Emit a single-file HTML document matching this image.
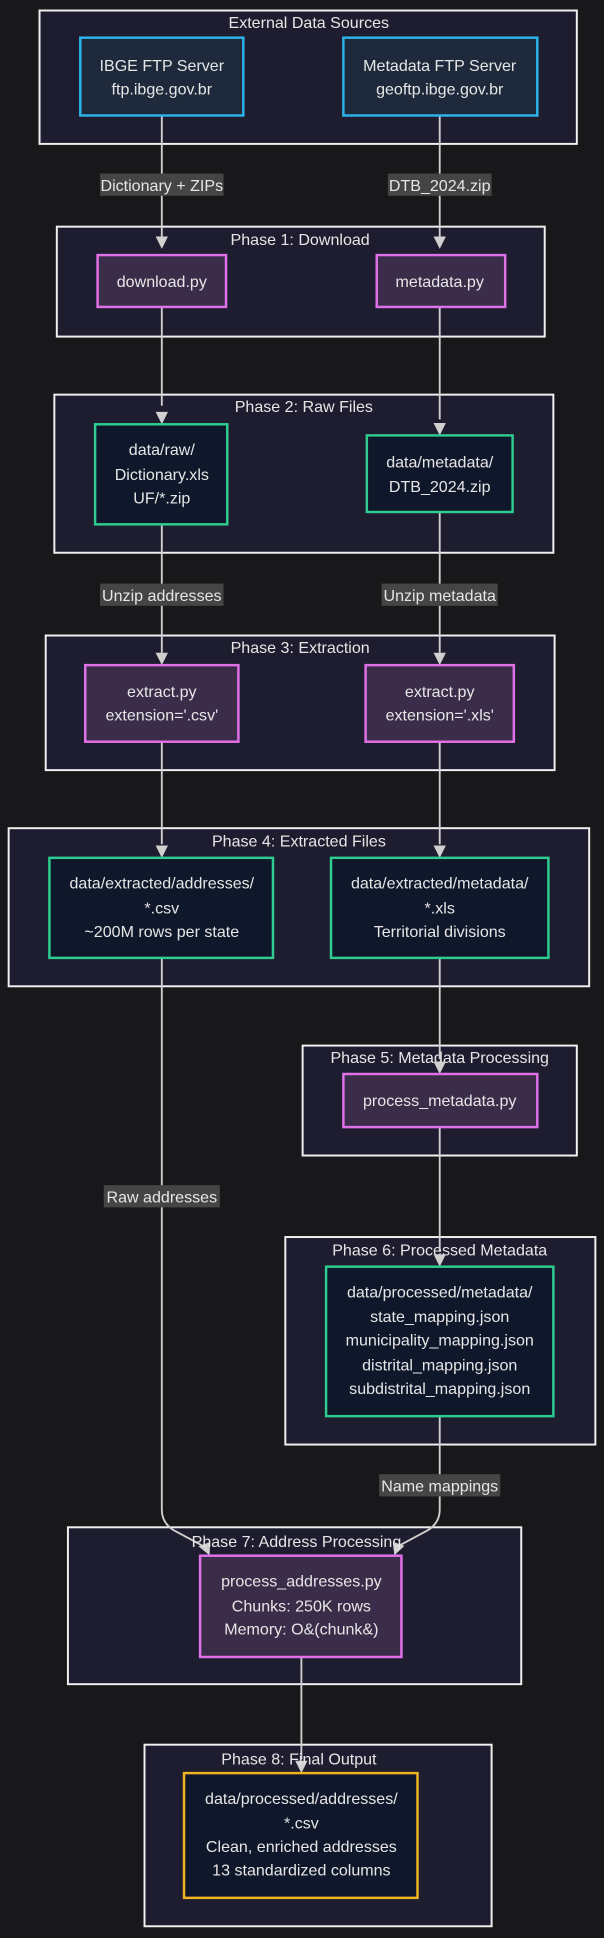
<!DOCTYPE html>
<html><head><meta charset="utf-8"><style>
html,body{margin:0;padding:0;background:#18181b;}
svg{display:block}
text{font-family:"Liberation Sans",Arial,sans-serif;fill:#e6e6e6;font-size:13px;text-anchor:middle;}
.cl{fill:#1e1d2f;stroke:#f0f0f0;stroke-width:1.6}
.b{fill:#1e2a3b;stroke:#2bb4ea;stroke-width:2}
.p{fill:#3b2d4a;stroke:#e070e8;stroke-width:2}
.g{fill:#0f172a;stroke:#2ecc8f;stroke-width:2}
.y{fill:#0f172a;stroke:#f2b320;stroke-width:2}
.e{stroke:#d0d0d0;stroke-width:1.5;fill:none}
.lb{fill:#454545}
.ar{fill:#d0d0d0}
</style></head><body>
<svg width="604" height="1938" viewBox="0 0 489 1568" xmlns="http://www.w3.org/2000/svg">
<rect width="489" height="1568" fill="#18181b"/>
<rect class="cl" x="32" y="8" width="435" height="108"/>
<text x="250" y="22">External Data Sources</text>
<rect class="cl" x="46" y="183" width="395" height="89"/>
<text x="243" y="198">Phase 1: Download</text>
<rect class="cl" x="44" y="319" width="404" height="128"/>
<text x="246" y="333">Phase 2: Raw Files</text>
<rect class="cl" x="37" y="514" width="412" height="109"/>
<text x="243" y="528">Phase 3: Extraction</text>
<rect class="cl" x="7" y="670" width="470" height="128"/>
<text x="242" y="685">Phase 4: Extracted Files</text>
<rect class="cl" x="245" y="846" width="222" height="89"/>
<text x="356" y="860">Phase 5: Metadata Processing</text>
<rect class="cl" x="231" y="1001" width="251" height="168"/>
<text x="356" y="1016">Phase 6: Processed Metadata</text>
<rect class="cl" x="55" y="1236" width="367" height="127"/>
<rect class="cl" x="117" y="1412" width="281" height="147"/>
<path class="e" d="M131 93V192"/><path class="e" d="M356 93V192"/>
<path class="e" d="M131 248V328"/><path class="e" d="M356 248V339"/>
<path class="e" d="M131 424V528"/><path class="e" d="M356 414V528"/>
<path class="e" d="M131 600V683"/><path class="e" d="M356 600V683"/>
<path class="e" d="M356 775V857"/><path class="e" d="M356 912V1013"/>
<path class="e" d="M131 775V1222Q131 1232 140 1238L166 1252"/>
<path class="e" d="M356 1146V1222Q356 1232 347 1238L321 1252"/>
<path class="e" d="M244 1341V1424"/>
<g class="ar">
<polygon points="126,191 136,191 131,201"/>
<polygon points="351,191 361,191 356,201"/>
<polygon points="126,333 136,333 131,343"/>
<polygon points="351,342 361,342 356,352"/>
<polygon points="126,528 136,528 131,538"/>
<polygon points="351,528 361,528 356,538"/>
<polygon points="126,684 136,684 131,694"/>
<polygon points="351,684 361,684 356,694"/>
<polygon points="351,859 361,859 356,869"/>
<polygon points="351,1015 361,1015 356,1025"/>
<polygon points="162,1249 172,1249 168,1259" transform="rotate(-20 168 1254)"/>
<polygon points="316,1249 326,1249 321,1259" transform="rotate(20 321 1254)"/>
<polygon points="239,1425 249,1425 244,1435"/>
</g>
<text x="240" y="1252">Phase 7: Address Processing</text>
<text x="242" y="1428">Phase 8: Final Output</text>
<rect class="lb" x="81" y="140" width="100" height="18"/><text x="131" y="154">Dictionary + ZIPs</text>
<rect class="lb" x="314" y="140" width="84" height="18"/><text x="356" y="154">DTB_2024.zip</text>
<rect class="lb" x="81" y="472" width="100" height="18"/><text x="131" y="486">Unzip addresses</text>
<rect class="lb" x="309" y="472" width="94" height="18"/><text x="356" y="486">Unzip metadata</text>
<rect class="lb" x="84" y="959" width="94" height="18"/><text x="131" y="973">Raw addresses</text>
<rect class="lb" x="307" y="1193" width="98" height="18"/><text x="356" y="1207">Name mappings</text>
<rect class="b" x="65" y="30" width="132" height="63"/>
<text x="131" y="57">IBGE FTP Server</text><text x="131" y="76">ftp.ibge.gov.br</text>
<rect class="b" x="278" y="30" width="157" height="63"/>
<text x="356" y="57">Metadata FTP Server</text><text x="356" y="76">geoftp.ibge.gov.br</text>
<rect class="p" x="79" y="206" width="104" height="42"/><text x="131" y="232">download.py</text>
<rect class="p" x="305" y="206" width="104" height="42"/><text x="356" y="232">metadata.py</text>
<rect class="g" x="77" y="343" width="107" height="81"/>
<text x="131" y="368">data/raw/</text><text x="131" y="388">Dictionary.xls</text><text x="131" y="407">UF/*.zip</text>
<rect class="g" x="297" y="352" width="118" height="62"/>
<text x="356" y="378">data/metadata/</text><text x="356" y="398">DTB_2024.zip</text>
<rect class="p" x="69" y="538" width="124" height="62"/>
<text x="131" y="564">extract.py</text><text x="131" y="583">extension='.csv'</text>
<rect class="p" x="296" y="538" width="120" height="62"/>
<text x="356" y="564">extract.py</text><text x="356" y="583">extension='.xls'</text>
<rect class="g" x="40" y="694" width="181" height="81"/>
<text x="131" y="719">data/extracted/addresses/</text><text x="131" y="739">*.csv</text><text x="131" y="758">~200M rows per state</text>
<rect class="g" x="268" y="694" width="176" height="81"/>
<text x="356" y="719">data/extracted/metadata/</text><text x="356" y="739">*.xls</text><text x="356" y="758">Territorial divisions</text>
<rect class="p" x="278" y="869" width="157" height="43"/><text x="356" y="895">process_metadata.py</text>
<rect class="g" x="264" y="1025" width="184" height="121"/>
<text x="356" y="1050">data/processed/metadata/</text><text x="356" y="1070">state_mapping.json</text>
<text x="356" y="1089">municipality_mapping.json</text><text x="356" y="1109">distrital_mapping.json</text>
<text x="356" y="1128">subdistrital_mapping.json</text>
<rect class="p" x="162" y="1259" width="163" height="82"/>
<text x="244" y="1284">process_addresses.py</text><text x="244" y="1304">Chunks: 250K rows</text><text x="244" y="1323">Memory: O&amp;(chunk&amp;)</text>
<rect class="y" x="149" y="1435" width="189" height="101"/>
<text x="244" y="1460">data/processed/addresses/</text><text x="244" y="1480">*.csv</text>
<text x="244" y="1499">Clean, enriched addresses</text><text x="244" y="1518">13 standardized columns</text>
</svg>
</body></html>
